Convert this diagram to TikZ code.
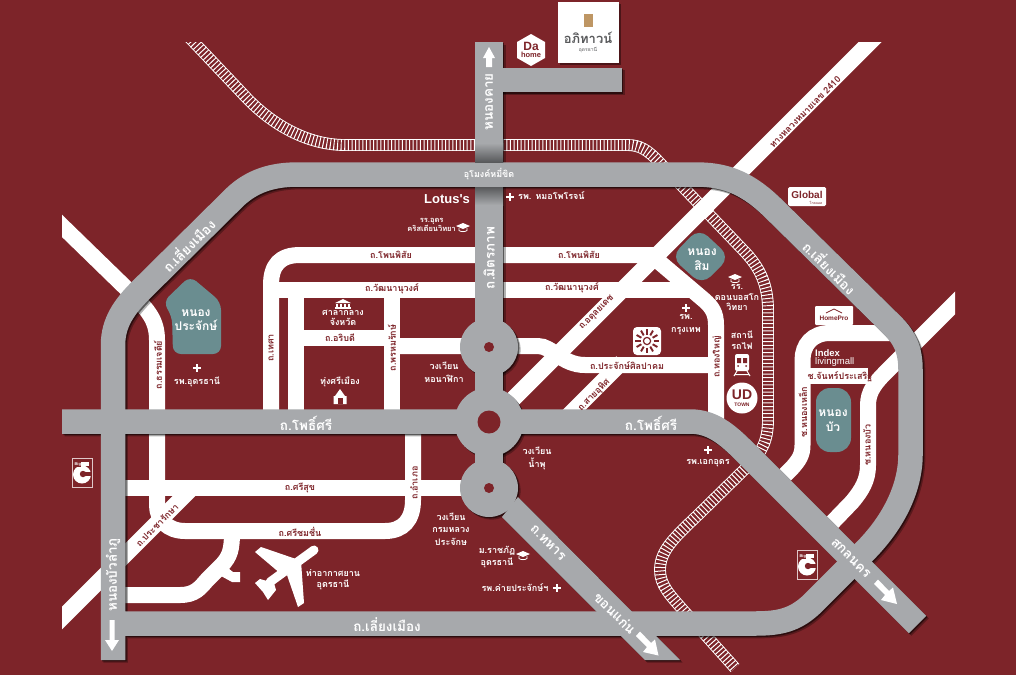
\documentclass[tikz,border=0pt]{standalone}
\usepackage{fontspec}
\setmainfont[Script=Thai]{Loma}
\newfontfamily\lat{Liberation Sans}
\setlength{\lineskiplimit}{-30pt}
\definecolor{rmar}{HTML}{7D2429}
\definecolor{rgrey}{HTML}{A7A9AC}
\definecolor{rteal}{HTML}{6A8D90}
\definecolor{rdark}{HTML}{58595B}
\newcommand{\railpath}{(187,35) -- (242,93) .. controls (268,122) and (305,145) .. (345,145) -- (627,145) .. controls (640,145) and (648,150) .. (660,163) -- (745,252) .. controls (760,268) and (768,285) .. (768,310) -- (768,420) .. controls (768,440) and (762,452) .. (750,464) -- (700,513) .. controls (675,537) and (660,550) .. (660,570) .. controls (660,585) and (670,595) .. (683,610) -- (735,668)}
\newcommand{\greyroads}{%
  \draw[groad,line width=28pt] (489,42) -- (489,347) -- (489,488);
  \draw[groad] (489,80) -- (622,80);
  \draw[groad] (113,660) -- (113,345) .. controls (113,322) and (125,306) .. (141,290) -- (235,197) .. controls (252,181) and (272,174.5) .. (298,174.5) -- (695,174.5) .. controls (722,174.5) and (745,180) .. (775,210) -- (892,325) .. controls (905,338) and (910.5,350) .. (910.5,370) -- (910.5,455) .. controls (910.5,480) and (900,516) .. (864,552) -- (812,604) .. controls (795,620) and (780,623.5) .. (755,623.5) -- (113,623.5);
  \draw[groad] (62,421.5) -- (690,421.5) .. controls (712,421.5) and (727,434) .. (745,452) -- (917.5,624.5);
  \fill[gfill] (518,497) -- (680,660) -- (645,660) -- (502,517) -- cycle;
  \fill[gfill] (489,347) circle[radius=29];
  \fill[gfill] (489,422) circle[radius=34.5];
  \fill[gfill] (489,488) circle[radius=29];
}
\tikzset{
  wroad/.style={draw=white,line width=16pt},
  groad/.style={draw=rg,line width=24.5pt},
  gfill/.style={fill=rg},
  ml/.style={text=rmar,inner sep=0,font=\fontsize{9}{12}\bfseries\selectfont,align=center},
  wl/.style={text=white,inner sep=0,font=\fontsize{9}{12.8}\bfseries\selectfont,align=center},
  wls/.style={text=white,inner sep=0,font=\fontsize{9}{10.6}\bfseries\selectfont,align=center},
  gl/.style={text=white,inner sep=0,font=\fontsize{13.5}{16}\bfseries\selectfont,align=center},
  tl/.style={text=white,inner sep=0,font=\fontsize{12}{14.5}\bfseries\selectfont,align=center},
  plussign/.pic={\draw[white,line width=1.8pt] (-4,0) -- (4,0) (0,-4) -- (0,4);},
  gradcap/.pic={\fill[white] (-7,0) -- (0,-3) -- (7,0) -- (0,3) -- cycle;
    \draw[white,line width=.8pt] (-4,2) -- (-4,4.5) .. controls (-2,6) and (2,6) .. (4,4.5) -- (4,2);},
  bigc/.pic={\draw[white!75!rmar,line width=.7pt] (-10,-14.5) rectangle (10,14.5);
    \fill[white] (-7,-11) -- (7,-11) -- (7,-7) -- (-7,-7) -- cycle;
    \fill[white] (0,2) circle[radius=9];
    \fill[rmar] (-7.5,-11.5) rectangle (-1,-6);
    \fill[rmar] (1,1.5) circle[radius=3.2];
    \fill[rmar] (3,-.3) rectangle (10,3.3);
    \node[inner sep=0,text=white,font=\lat\bfseries\fontsize{4}{4}\selectfont] at (-4.2,-8.5) {Big};}
}
\begin{document}
\begin{tikzpicture}[x=1pt,y=-1pt]
\useasboundingbox (0,0) rectangle (1016,675);
\fill[rmar] (0,0) rectangle (1016,675);
% railway
\begin{scope}
\clip (62,42) rectangle (955,675);
\draw[line width=.9pt,draw=white,double=rmar,double distance=10pt] \railpath;
\draw[white,line width=11.5pt,dash pattern=on 1pt off 2.6pt] \railpath;
% white roads
\draw[wroad] (271,420) -- (271,285) .. controls (271,265) and (280,255) .. (300,255) -- (651,255) -- (704,300) .. controls (712,307) and (716,313) .. (716,325) -- (716,420);
\draw[wroad] (263,289.5) -- (690,289.5);
\draw[wroad] (295.5,289) -- (295.5,420);
\draw[wroad] (300,338) -- (392,338);
\draw[wroad] (392,289) -- (392,420);
\draw[wroad] (392,346) -- (538,346) .. controls (552,346) and (562,365) .. (585,365) -- (716,365);
\draw[wroad] (568,416) -- (622,362);
\fill[white] (858.5,42) -- (881.5,42) -- (513.5,410) -- (490.5,410) -- cycle;
\draw[wroad] (40,204.5) -- (130,292) .. controls (148,310) and (157,320) .. (157,340) -- (157,505) .. controls (157,520) and (168,531) .. (185,531) -- (385,531) .. controls (403,531) and (413,520) .. (413,500) -- (413,430);
\draw[wroad] (125,488) -- (470,488);
\draw[wroad] (40,640) -- (192,488);
\draw[wroad] (125,595) -- (180,595) .. controls (195,595) and (200,588) .. (207,580) -- (222,565) .. controls (230,556) and (232,550) .. (232,531);
\fill[white] (221,576) -- (228,568) -- (233,572) -- (240,572) -- (240,582) -- (232,582) -- cycle;
\draw[wroad] (770,490) -- (792,468) .. controls (799,460) and (802.5,455) .. (802.5,445) -- (802.5,360) .. controls (802.5,345) and (812,333) .. (830,333) -- (895,333);
\draw[wroad] (802,376) -- (868,376);
\draw[wroad] (975,283) -- (885,373) .. controls (875,383) and (868,392) .. (868,405) -- (868,465) .. controls (868,480) and (862,490) .. (852,502) -- (825,530);
\end{scope}
% shadows and grey roads
\begin{scope}[shift={(2.6,2.6)},opacity=.3]\colorlet{rg}{black}\greyroads\end{scope}
\begin{scope}[shift={(1.3,1.3)},opacity=.5]\colorlet{rg}{black}\greyroads\end{scope}
\colorlet{rg}{rgrey}
\greyroads
\fill[rmar] (489,347) circle[radius=5];
\fill[rmar] (489,422) circle[radius=11.5];
\fill[rmar] (489,488) circle[radius=5];
\shade[top color=rgrey,bottom color=rdark] (475,143) rectangle (503,162);
\shade[top color=rdark,bottom color=rgrey] (475,187) rectangle (503,205);
% ponds
\fill[rteal,rounded corners=8pt] (190,276) -- (221,302) -- (221,354) -- (173,354) -- (172,316) -- (163,302) -- cycle;
\fill[rteal,rounded corners=12pt] (699,228) -- (730,257) -- (702,285) -- (671,257) -- cycle;
\fill[rteal,rounded corners=14pt] (816,388) rectangle (851,452);
% arrows
\fill[white] (109.5,620) -- (114.5,620) -- (114.5,640) -- (119,640) -- (112,651) -- (105,640) -- (109.5,640) -- cycle;
\fill[white] (636,636) -- (640,631.5) -- (651,643) -- (655,639.5) -- (658.5,655.5) -- (643,652) -- (647,647) -- cycle;
\fill[white] (874,584) -- (878,579.5) -- (889,591) -- (893,587.5) -- (897,604) -- (881,600) -- (885,595) -- cycle;
\fill[white] (489,47) -- (495,58) -- (492,58) -- (492,67) -- (486,67) -- (486,58) -- (483,58) -- cycle;
% apartment card
\fill[black,opacity=.4] (560,4) rectangle (620.5,64.5);
\fill[white] (558,2) rectangle (619,63);
\fill[color={rgb,255:red,190;green,150;blue,100}] (584,14) rectangle (593,27);
\node[inner sep=0,text=rdark,font=\fontsize{13}{14}\bfseries\selectfont] (apt) at (588,38) {อภิทาวน์};
\node[inner sep=0,text=rdark,font=\fontsize{5}{6}\selectfont] (aptsub) at (588,50) {อุดรธานี};
% da home
\fill[white] (531,34) -- (545,42) -- (545,58) -- (531,66) -- (517,58) -- (517,42) -- cycle;
\node[inner sep=0,text=rmar,font=\lat\bfseries\fontsize{12}{12}\selectfont] (da) at (531,46) {Da};
\node[inner sep=0,text=rmar,font=\lat\bfseries\fontsize{7.5}{8}\selectfont] (dahome) at (531,55) {home};
% logos
\fill[white,rounded corners=1.5pt] (788,187) rectangle (826,206);
\node[inner sep=0,text=rmar,font=\lat\bfseries\fontsize{10}{10}\selectfont] (global) at (807,194.5) {Global};
\node[inner sep=0,text=rmar,font=\fontsize{3.5}{4}\selectfont] (globalsub) at (816,202.5) {โกลบอล};
\fill[white,rounded corners=1pt] (815,306) rectangle (853,325);
\draw[rmar,line width=.7pt] (826,313) -- (834,309) -- (842,313);
\node[inner sep=0,text=rmar,font=\lat\bfseries\fontsize{6.5}{7}\selectfont] (homepro) at (834,318.5) {HomePro};
\node[inner sep=0,anchor=west,text=white,font=\lat\bfseries\fontsize{9.5}{10}\selectfont] (index) at (815,353) {Index};
\node[inner sep=0,anchor=west,text=white,font=\lat\fontsize{9.5}{10}\selectfont] (living) at (815,362) {livingmall};
\pic at (82,472.5) {bigc};
\pic at (807,564.5) {bigc};
% sun logo
\fill[white,rounded corners=4pt] (633,327) rectangle (661,355);
\foreach \a in {0,30,...,330}{\draw[rmar,line width=1.9pt] (647,341) ++(\a:6.5) -- ++(\a:5.5);}
\draw[rmar,line width=1.2pt] (647,341) circle[radius=3.6];
% UD town
\fill[white] (742,398) circle[radius=15.5];
\node[inner sep=0,text=rmar,font=\lat\bfseries\fontsize{14}{14}\selectfont] (ud) at (742,395) {UD};
\node[inner sep=0,text=rmar,font=\lat\bfseries\fontsize{5}{5}\selectfont] (town) at (742,405) {TOWN};
% train icon
\fill[white,rounded corners=2pt] (735,354) rectangle (749,371);
\fill[rmar] (737,358) rectangle (741,363) (743,358) rectangle (747,363);
\fill[rmar] (738,366) circle[radius=1] (746,366) circle[radius=1];
\draw[white,line width=1pt] (737,371) -- (734,376) (747,371) -- (750,376) (735,374.5) -- (749,374.5);
% plane
\draw[white,line width=9pt,line cap=round] (314,550) -- (270,582);
\fill[white] (255,552) -- (261,547) -- (296,559) -- (281,574) -- cycle;
\fill[white] (287,575) -- (301,561) -- (304,603) -- (298,607) -- cycle;
\fill[white] (255,583) -- (260,579) -- (274,583) -- (276,590) -- (268,600) -- (263,592) -- cycle;
% civic icons
\fill[white] (343,299) -- (351,303) -- (335,303) -- cycle;
\fill[white] (335,307) rectangle (351,308.5);
\foreach \q in {337,341,345,349}{\fill[white] (\q-.7,303.5) rectangle (\q+.7,307);}
\fill[white] (340,389) -- (345,396) -- (346.5,396) -- (346.5,404) -- (333.5,404) -- (333.5,396) -- (335,396) -- cycle;
\fill[rmar] (337.5,398) rectangle (342.5,404);
\pic at (463,226) {gradcap};
\pic at (735,277) {gradcap};
\pic at (523,554) {gradcap};
\pic at (510,197) {plussign};
\pic at (197,368) {plussign};
\pic at (686,308) {plussign};
\pic at (708,450) {plussign};
\pic at (557,588) {plussign};
% grey road labels
\node[gl,rotate=90] (t1) at (489,102) {หนองคาย};
\node[gl,rotate=90] (t2) at (489,258) {ถ.มิตรภาพ};
\node[wl] (t3) at (489,174.5) {อุโมงค์หมี่ขิด};
\node[gl,rotate=45] (t4) at (188,245) {ถ.เลี่ยงเมือง};
\node[gl,rotate=-45] (t5) at (830,267) {ถ.เลี่ยงเมือง};
\node[gl] (t6) at (306,423) {ถ.โพธิ์ศรี};
\node[gl] (t7) at (651,423) {ถ.โพธิ์ศรี};
\node[gl,rotate=90] (t8) at (113,575) {หนองบัวลำภู};
\node[gl] (t9) at (387,625) {ถ.เลี่ยงเมือง};
\node[gl,rotate=-45] (t10) at (548,543) {ถ.ทหาร};
\node[gl,rotate=-45] (t11) at (615,613) {ขอนแก่น};
\node[gl,rotate=-45] (t12) at (851,558) {สกลนคร};
% white road labels
\node[ml] (m1) at (391,255) {ถ.โพนพิสัย};
\node[ml] (m2) at (579,255) {ถ.โพนพิสัย};
\node[ml] (m3) at (392,289) {ถ.วัฒนานุวงศ์};
\node[ml] (m4) at (572,288) {ถ.วัฒนานุวงศ์};
\node[ml] (m5) at (340,338) {ถ.อริบดี};
\node[ml,rotate=90] (m6) at (392,348) {ถ.พรหมรักษ์};
\node[ml,rotate=90] (m7) at (271,348) {ถ.เทศา};
\node[ml,rotate=90] (m8) at (158,365) {ถ.ธรรมเจดีย์};
\node[ml] (m9) at (300,488) {ถ.ศรีสุข};
\node[ml] (m10) at (300,532) {ถ.ศรีชมชื่น};
\node[ml,rotate=90] (m11) at (414,483) {ถ.อำเภอ};
\node[ml,rotate=45] (m12) at (157,525) {ถ.ประชารักษา};
\node[ml] (m13) at (627,366) {ถ.ประจักษ์ศิลปาคม};
\node[ml,rotate=90] (m14) at (717,357) {ถ.ทองใหญ่};
\node[ml,rotate=45] (m15) at (597,313) {ถ.อดุลยเดช};
\node[ml,rotate=45] (m16) at (594,395) {ถ.สายอุทิศ};
\node[ml,rotate=45] (m17) at (805,112) {ทางหลวงหมายเลข 2410};
\node[ml] (m18) at (840,377) {ช.จันทร์ประเสริฐ};
\node[ml,rotate=90] (m19) at (803,412) {ช.หนองเหล็ก};
\node[ml,rotate=90] (m20) at (867,445) {ช.หนองบัว};
% place labels
\node[inner sep=0,text=white,font=\lat\bfseries\fontsize{13}{14}\selectfont] (p1) at (447,199) {Lotus's};
\node[wl,anchor=west] (p2) at (518,196) {รพ. หมอโพโรจน์};
\node[wls,anchor=east,font=\fontsize{7.5}{9.5}\bfseries\selectfont] (p3) at (456,225) {รร.อุดร\\คริสเตียนวิทยา};
\node[wls] (p4) at (343,318) {ศาลากลาง\\จังหวัด};
\node[wl] (p5) at (340,382) {ทุ่งศรีเมือง};
\node[wl] (p6) at (444,372.5) {วงเวียน\\หอนาฬิกา};
\node[wl] (p7) at (537,458) {วงเวียน\\น้ำพุ};
\node[wl] (p8) at (451,529) {วงเวียน\\กรมหลวง\\ประจักษ};
\node[wl] (p9) at (497,557) {ม.ราชภัฏ\\อุดรธานี};
\node[wl] (p10) at (515,588) {รพ.ค่ายประจักษ์ฯ};
\node[wls] (p11) at (333,579.5) {ท่าอากาศยาน\\อุดรธานี};
\node[wl] (p12) at (197,382) {รพ.อุดรธานี};
\node[tl] (p13) at (196,320) {หนอง\\ประจักษ์};
\node[tl] (p14) at (702,259.5) {หนอง\\สิม};
\node[tl] (p15) at (833,420.5) {หนอง\\บัว};
\node[wl] (p16) at (708,463) {รพ.เอกอุดร};
\node[wl] (p17) at (686,325) {รพ.\\กรุงเทพ};
\node[wls] (p18) at (737,297.5) {รร.\\ดอนบอสโก\\วิทยา};
\node[wls] (p19) at (742,340.5) {สถานี\\รถไฟ};
\end{tikzpicture}
\end{document}
